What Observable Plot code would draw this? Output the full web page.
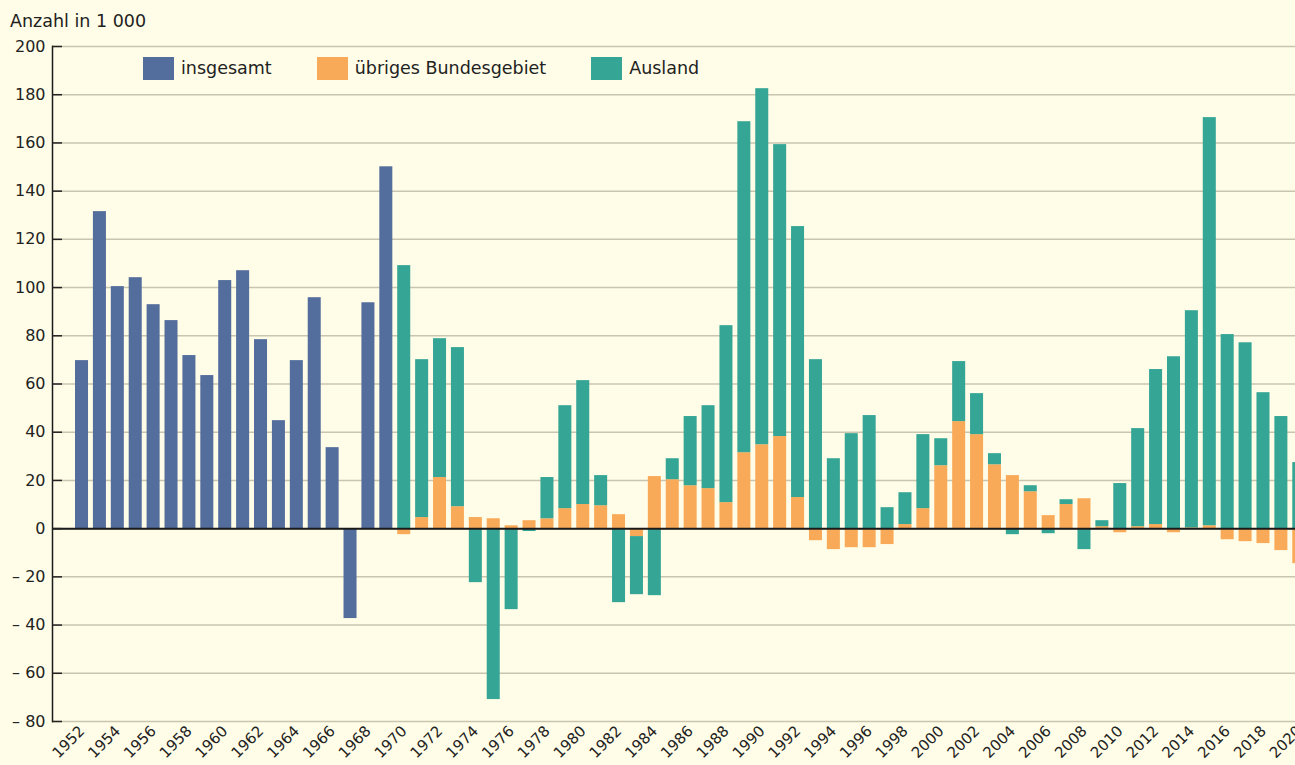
<!DOCTYPE html>
<html>
<head>
<meta charset="utf-8">
<script src="https://cdn.jsdelivr.net/npm/d3@7"></script>
<script src="https://cdn.jsdelivr.net/npm/@observablehq/plot@0.6"></script>
<style>
  html, body { margin: 0; padding: 0; background: #fffde7; overflow: hidden; width: 1295px; height: 765px; }
  #wrap { position: relative; width: 1295px; height: 765px; overflow: hidden; font-family: "DejaVu Sans", sans-serif; color: #222; }
  #title { position: absolute; left: 10px; top: 11px; font-size: 17.5px; line-height: 20px; }
  #legend { position: absolute; left: 143px; top: 57px; display: flex; align-items: center; font-size: 17.5px; line-height: 23px; z-index: 2; }
  .item { display: flex; align-items: center; margin-right: 45px; }
  .sw { width: 31px; height: 23px; margin-right: 7px; }
  #chart { position: absolute; left: 0; top: 0; }
  #chart svg { max-width: none; }
</style>
</head>
<body>
<div id="wrap">
  <div id="title">Anzahl in 1 000</div>
  <div id="legend"></div>
  <div id="chart"></div>
</div>
<script>
// ---- data ----
const seriesNames = ["insgesamt", "übriges Bundesgebiet", "Ausland"];
const seriesColors = ["#536d9c", "#f9aa58", "#35a595"];

const yearsTotal = [1952,1953,1954,1955,1956,1957,1958,1959,1960,1961,1962,1963,1964,1965,1966,1967,1968,1969];
const insgesamt  = [69.7,131.5,100.4,104.1,92.9,86.3,71.8,63.5,102.9,107.0,78.4,44.8,69.7,95.8,33.6,-37.3,93.7,150.1];

const yearsSplit = [1970,1971,1972,1973,1974,1975,1976,1977,1978,1979,
                    1980,1981,1982,1983,1984,1985,1986,1987,1988,1989,
                    1990,1991,1992,1993,1994,1995,1996,1997,1998,1999,
                    2000,2001,2002,2003,2004,2005,2006,2007,2008,2009,
                    2010,2011,2012,2013,2014,2015,2016,2017,2018,2019,2020];
const uebriges = [-2.5,4.6,21.2,9.1,4.6,4.1,1.2,3.3,4.1,8.3,
                  10.0,9.5,5.8,-3.3,21.6,20.3,17.8,16.6,10.8,31.5,
                  34.8,38.2,12.9,-5.0,-8.7,-7.9,-7.9,-6.6,1.7,8.3,
                  26.1,44.4,39.0,26.5,22.0,15.3,5.4,10.0,12.4,0.8,
                  -1.7,0.8,1.7,-1.7,0.3,1.2,-4.6,-5.4,-6.2,-9.1,-14.5];
const ausland  = [109.1,65.5,57.6,66.0,-22.4,-70.9,-33.6,-1.2,17.1,42.7,
                  51.4,12.5,-30.7,-24.1,-27.8,8.7,28.7,34.4,73.4,137.3,
                  147.7,121.1,112.4,70.1,29.0,39.4,46.9,8.7,13.2,30.7,
                  11.2,24.9,17.0,4.6,-2.5,2.5,-2.1,2.0,-8.7,2.5,
                  18.7,40.7,64.3,71.3,90.1,169.3,80.5,77.1,56.4,46.5,27.4];

const yTicks = [-80,-60,-40,-20,0,20,40,60,80,100,120,140,160,180,200];
const xTickYears = [1952,1954,1956,1958,1960,1962,1964,1966,1968,1970,1972,1974,1976,1978,1980,
                    1982,1984,1986,1988,1990,1992,1994,1996,1998,2000,2002,2004,2006,2008,2010,
                    2012,2014,2016,2018,2020];

// ---- table ----
const allYears = yearsTotal.concat(yearsSplit);
const rows = [];
yearsTotal.forEach((yr, i) => rows.push({year: yr, value: insgesamt[i], series: seriesNames[0]}));
yearsSplit.forEach((yr, i) => rows.push({year: yr, value: uebriges[i], series: seriesNames[1]}));
yearsSplit.forEach((yr, i) => rows.push({year: yr, value: ausland[i], series: seriesNames[2]}));

// ---- legend ----
const legend = document.getElementById("legend");
seriesNames.forEach((n, i) => {
  const it = document.createElement("div");
  it.className = "item";
  const sw = document.createElement("div");
  sw.className = "sw";
  sw.style.background = seriesColors[i];
  const t = document.createElement("span");
  t.textContent = n;
  it.appendChild(sw); it.appendChild(t);
  legend.appendChild(it);
});

const fmt = d => d < 0 ? "\u2013 " + (-d) : String(d);

const chart = Plot.plot({
  width: 1330,
  height: 765,
  marginTop: 46,
  marginBottom: 44,
  marginLeft: 52,
  marginRight: 1.7,
  style: {background: "transparent", fontFamily: "'DejaVu Sans', sans-serif", color: "#222", overflow: "visible", maxWidth: "none"},
  x: {type: "band", domain: allYears, paddingInner: 0.273, paddingOuter: 1.285, align: 0.5, label: null},
  y: {domain: [-80, 200], label: null},
  color: {domain: seriesNames, range: seriesColors},
  marks: [
    Plot.gridY(yTicks, {stroke: "#c9c5b0", strokeOpacity: 1, strokeWidth: 1.5}),
    Plot.barY(rows, {x: "year", y: "value", fill: "series"}),
    Plot.ruleY([0], {stroke: "#1a1a1a", strokeWidth: 2}),
    Plot.frame({anchor: "left", stroke: "#1a1a1a", strokeWidth: 1.5}),
    Plot.axisY(yTicks, {tickSize: -10, tickPadding: 17, tickFormat: fmt, fontSize: 16, label: null, strokeWidth: 1.5}),
    Plot.axisX(xTickYears, {tickSize: 0, tickRotate: -45, tickPadding: 7, fontSize: 15, label: null, tickFormat: d => String(d)})
  ]
});
document.getElementById("chart").appendChild(chart);
</script>
</body>
</html>
